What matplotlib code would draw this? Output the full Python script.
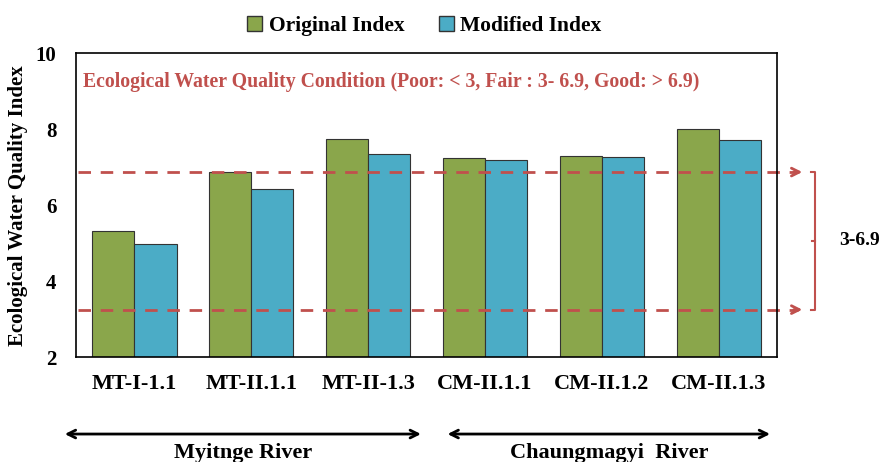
import numpy as np
import matplotlib
matplotlib.use("Agg")
import matplotlib.pyplot as plt
from matplotlib.patches import Patch

sites = ["MT-I-1.1", "MT-II.1.1", "MT-II-1.3", "CM-II.1.1", "CM-II.1.2", "CM-II.1.3"]
original_index = [5.32, 6.87, 7.74, 7.24, 7.29, 8.00]
modified_index = [4.97, 6.42, 7.34, 7.18, 7.26, 7.71]
fair_bounds = [3.25, 6.87]
rivers = ["Myitnge River", "Chaungmagyi  River"]

plt.rcParams["font.family"] = ["Liberation Serif", "DejaVu Serif"]
plt.rcParams["font.weight"] = "bold"

green = "#8aa64b"
blue = "#4bacc6"
red = "#c0504d"

fig = plt.figure(figsize=(8.8, 4.62), dpi=100)
ax = fig.add_axes([0.0864, 0.227, 0.7966, 0.658])

x = np.arange(len(sites))
w = 0.36
ax.bar(x - w / 2, original_index, w, color=green, edgecolor="#333333", linewidth=0.8)
ax.bar(x + w / 2, modified_index, w, color=blue, edgecolor="#333333", linewidth=0.8)

ax.set_xlim(-0.5, len(sites) - 0.5)
ax.set_ylim(2, 10)
ax.set_yticks([2, 4, 6, 8, 10])
ax.set_xticks(x)
ax.set_xticklabels(sites, fontsize=16, fontweight="bold")
ax.tick_params(axis="y", labelsize=15, length=0, pad=14)
ax.tick_params(axis="x", length=0, pad=12)
for s in ax.spines.values():
    s.set_color("black")
    s.set_linewidth(1.2)
ax.set_ylabel("Ecological Water Quality Index", fontsize=15, fontweight="bold")
ax.yaxis.set_label_coords(-0.068, 0.5)

ax.text(0.01, 0.905, "Ecological Water Quality Condition (Poor: < 3, Fair : 3- 6.9, Good: > 6.9)",
        transform=ax.transAxes, color=red, fontsize=14.2, fontweight="bold", va="center")

# fair band dashed lines with arrows beyond the axes
trans = ax.get_yaxis_transform()
for yv in fair_bounds:
    ax.plot([0.003, 1.03], [yv, yv], transform=trans, color=red, linestyle=(0, (4.5, 3.5)),
            linewidth=2, clip_on=False)
    ax.annotate("", xy=(1.04, yv), xytext=(1.02, yv), xycoords=trans, textcoords=trans,
                arrowprops=dict(arrowstyle="->", color=red, lw=2, mutation_scale=14),
                annotation_clip=False)

bx = 1.054
ax.plot([bx - 0.006, bx, bx, bx - 0.006], [fair_bounds[1], fair_bounds[1], fair_bounds[0], fair_bounds[0]],
        transform=trans, color=red, linewidth=1.5, clip_on=False)
mid = sum(fair_bounds) / 2
ax.plot([bx, bx - 0.004], [mid, mid], transform=trans, color=red, linewidth=1.5, clip_on=False)
ax.text(1.088, mid, "3-6.9", transform=trans, fontsize=14, fontweight="bold", va="center", ha="left")

# river group arrows under the axis
spans = [(-0.02, 0.496), (0.526, 0.994)]
for (x0, x1), name in zip(spans, rivers):
    ax.annotate("", xy=(x1, -0.253), xytext=(x0, -0.253), xycoords="axes fraction",
                arrowprops=dict(arrowstyle="<->", color="black", lw=2, mutation_scale=14),
                annotation_clip=False)
    ax.text((x0 + x1) / 2, -0.315, name, transform=ax.transAxes, fontsize=16,
            fontweight="bold", ha="center", va="center")

handles = [Patch(facecolor=green, edgecolor="#333333"), Patch(facecolor=blue, edgecolor="#333333")]
fig.legend(handles, ["Original Index", "Modified Index"], loc="center", bbox_to_anchor=(0.482, 0.944),
           ncol=2, frameon=False, prop={"size": 15.5, "weight": "bold"},
           handlelength=0.7, handleheight=0.7, handletextpad=0.3, columnspacing=1.6)

fig.savefig("out.png", dpi=100)
